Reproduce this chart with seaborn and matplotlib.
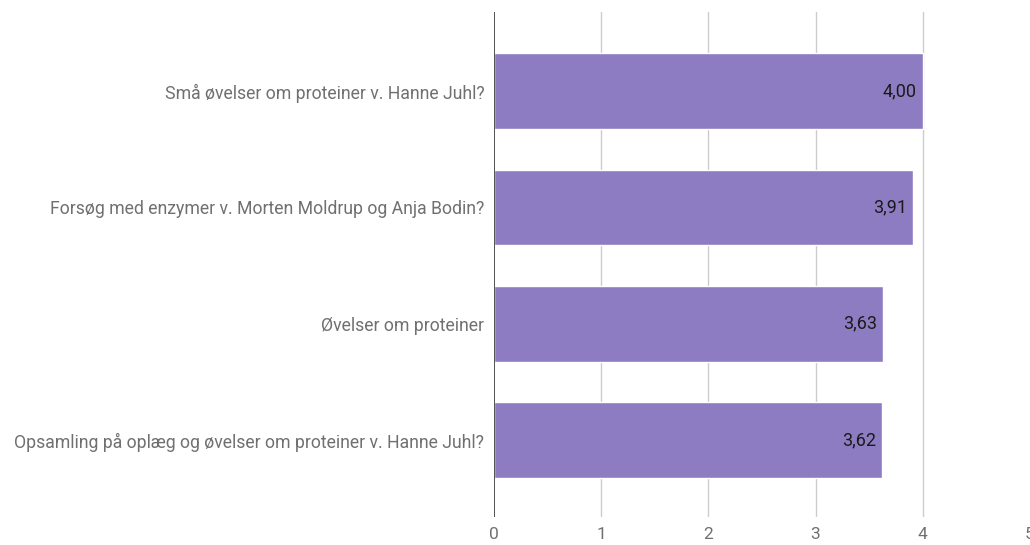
import matplotlib
matplotlib.use("Agg")
import matplotlib.pyplot as plt
import seaborn as sns
import pandas as pd

categories = [
    "Små øvelser om proteiner v. Hanne Juhl?",
    "Forsøg med enzymer v. Morten Moldrup og Anja Bodin?",
    "Øvelser om proteiner",
    "Opsamling på oplæg og øvelser om proteiner v. Hanne Juhl?",
]
values = [4.00, 3.91, 3.63, 3.62]
value_labels = ["4,00", "3,91", "3,63", "3,62"]
x_ticks = [0, 1, 2, 3, 4, 5]

sns.set_theme(style="white")
plt.rcParams['font.family'] = ['Roboto', 'DejaVu Sans']

df = pd.DataFrame({"cat": categories, "val": values})

fig = plt.figure(figsize=(10.30, 5.45), dpi=100)
ax = fig.add_axes([494/1030, 1-517/545, 536/1030, 505/545])

sns.barplot(data=df, x="val", y="cat", orient="h", color="#8e7cc3",
            saturation=1, width=0.65, ax=ax, zorder=3)

ax.set_xlim(0, 5)
ax.set_ylim(3.66, -0.68)
ax.set_xticks(x_ticks)
ax.set_xticklabels([str(t) for t in x_ticks])
ax.set_xlabel("")
ax.set_ylabel("")
for t in x_ticks[1:-1]:
    ax.axvline(t, color="#cccccc", lw=1, zorder=1)
ax.axvline(0, color="#333333", lw=1.2, zorder=4)
for s in ax.spines.values():
    s.set_visible(False)
ax.tick_params(axis="both", length=0, colors="#707070", labelsize=12.7)
ax.tick_params(axis="y", pad=7)
ax.tick_params(axis="x", pad=7, labelsize=12.5)
for lbl in ax.get_xticklabels():
    lbl.set_clip_on(False)

for i, (v, lab) in enumerate(zip(values, value_labels)):
    ax.annotate(lab, xy=(v, i), xytext=(-4.5, 0), textcoords="offset points",
                ha="right", va="center", fontsize=13, color="#1a1a1a", zorder=5)

fig.savefig("out.png", dpi=100)
